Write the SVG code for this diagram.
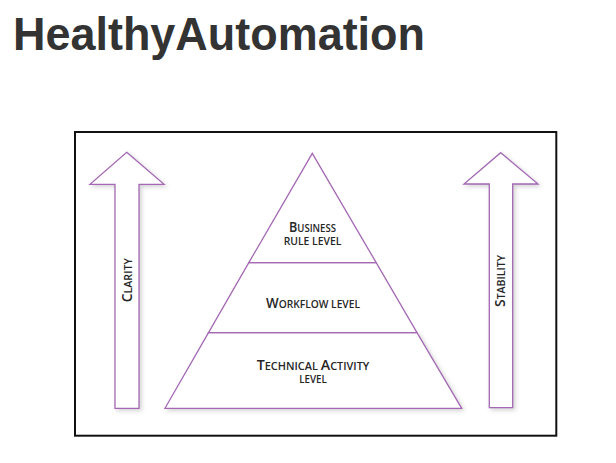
<svg xmlns="http://www.w3.org/2000/svg" width="616" height="463" viewBox="0 0 616 463">
  <style>
    .title { font-family: "Liberation Sans", Arial, sans-serif; font-weight: bold; font-size: 47px; fill: #333333; }
    .shape { fill: #ffffff; stroke: #a468b4; stroke-width: 1.3; stroke-linejoin: miter; }
    .lbl { font-family: "Open Sans", "Liberation Sans", sans-serif; font-weight: 600; fill: #262626; text-anchor: middle; }
    .big { font-size: 13.6px; }
    .sm { font-size: 10.4px; }
  </style>
  <defs>
    <filter id="soft" x="-20%" y="-20%" width="140%" height="140%">
      <feDropShadow dx="2" dy="2" stdDeviation="2" flood-color="#808080" flood-opacity="0.35"/>
    </filter>
  </defs>

  <rect width="616" height="463" fill="#ffffff"/>

  <text class="title" x="13" y="50" textLength="412" lengthAdjust="spacingAndGlyphs">HealthyAutomation</text>

  <!-- outer frame -->
  <rect x="75" y="132" width="481.3" height="303.7" fill="#ffffff" stroke="#111111" stroke-width="2"/>

  <!-- left arrow: clarity -->
  <g id="arrow-clarity">
    <polygon class="shape" filter="url(#soft)" points="126.7,152.3 164,184.3 139,184.3 139,408.3 115,408.3 115,184.3 90,184.3"/>
    <text class="lbl" transform="translate(131.6,280.3) rotate(-90)" x="0" y="0" textLength="44" lengthAdjust="spacingAndGlyphs"><tspan class="big">C</tspan><tspan class="sm">LARITY</tspan></text>
  </g>

  <!-- right arrow: stability -->
  <g id="arrow-stability">
    <polygon class="shape" filter="url(#soft)" points="500.7,152.7 538,184 512.7,184 512.7,407.7 489.3,407.7 489.3,184 464,184"/>
    <text class="lbl" transform="translate(504.5,281) rotate(-90)" x="0" y="0" textLength="52" lengthAdjust="spacingAndGlyphs"><tspan class="big">S</tspan><tspan class="sm">TABILITY</tspan></text>
  </g>

  <!-- pyramid tiers -->
  <g id="tier-technical">
    <polygon class="shape" filter="url(#soft)" points="208.5,332.7 417,332.7 461.7,408.3 165,408.3"/>
    <text class="lbl" x="313" y="370" textLength="112.6" lengthAdjust="spacingAndGlyphs"><tspan class="big">T</tspan><tspan class="sm">ECHNICAL </tspan><tspan class="big">A</tspan><tspan class="sm">CTIVITY</tspan></text>
    <text class="lbl sm" x="313" y="383.3" textLength="27.7" lengthAdjust="spacingAndGlyphs">LEVEL</text>
  </g>

  <g id="tier-workflow">
    <polygon class="shape" points="248.8,262.7 376.2,262.7 417,332.7 208.5,332.7"/>
    <text class="lbl" x="313" y="307.8" textLength="94" lengthAdjust="spacingAndGlyphs"><tspan class="big">W</tspan><tspan class="sm">ORKFLOW LEVEL</tspan></text>
  </g>

  <g id="tier-business">
    <polygon class="shape" points="312.3,153.3 376.2,262.7 248.8,262.7"/>
    <text class="lbl" x="312.5" y="232.4" textLength="47" lengthAdjust="spacingAndGlyphs"><tspan class="big">B</tspan><tspan class="sm">USINESS</tspan></text>
    <text class="lbl sm" x="312.5" y="245" textLength="57.7" lengthAdjust="spacingAndGlyphs">RULE LEVEL</text>
  </g>
</svg>
